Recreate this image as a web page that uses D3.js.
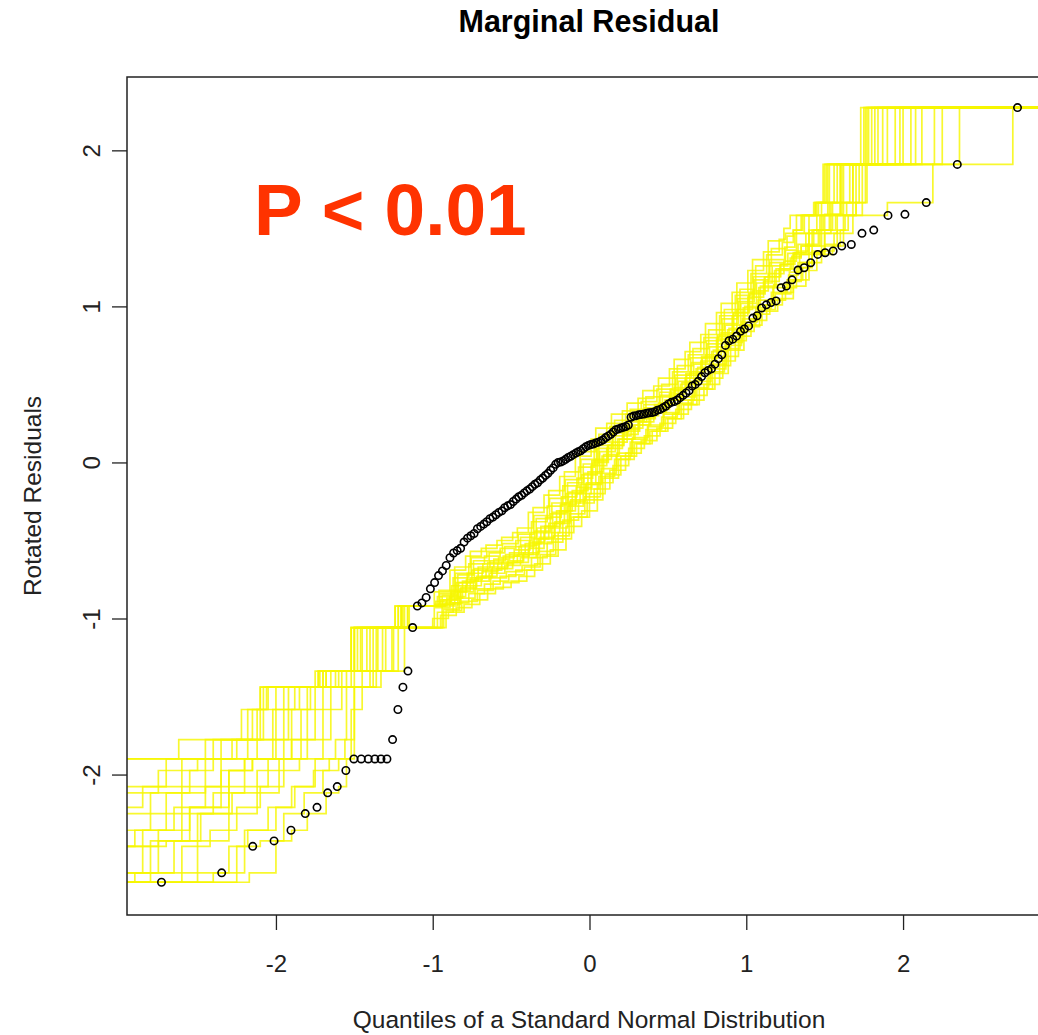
<!DOCTYPE html>
<html>
<head>
<meta charset="utf-8">
<script src="https://cdn.jsdelivr.net/npm/d3@7"></script>
<style>
  html, body { margin: 0; padding: 0; background: #fff; }
  svg { display: block; font-family: "Liberation Sans", Arial, sans-serif; }
</style>
</head>
<body>
<svg id="chart" width="1038" height="1035"></svg>
<script>
// Theoretical standard-normal quantiles (n = 158)
const normalQuantiles = [
  -2.73, -2.346, -2.148, -2.012, -1.904, -1.813, -1.738, -1.670, -1.609, -1.554,
  -1.503, -1.456, -1.411, -1.369, -1.330, -1.292, -1.256, -1.222, -1.190, -1.158,
  -1.128, -1.098, -1.069, -1.042, -1.015, -0.988, -0.963, -0.938, -0.914, -0.890,
  -0.867, -0.844, -0.822, -0.800, -0.778, -0.757, -0.736, -0.715, -0.694, -0.674,
  -0.655, -0.635, -0.616, -0.597, -0.578, -0.559, -0.541, -0.522, -0.504, -0.486,
  -0.468, -0.451, -0.433, -0.416, -0.399, -0.381, -0.365, -0.348, -0.331, -0.314,
  -0.298, -0.281, -0.265, -0.248, -0.232, -0.216, -0.200, -0.184, -0.168, -0.152,
  -0.136, -0.120, -0.104, -0.087, -0.072, -0.056, -0.040, -0.024, -0.008,
  0.008, 0.024, 0.040, 0.056, 0.072, 0.087, 0.104, 0.120, 0.136, 0.152,
  0.168, 0.184, 0.200, 0.216, 0.232, 0.248, 0.265, 0.281, 0.298, 0.314,
  0.331, 0.348, 0.365, 0.381, 0.399, 0.416, 0.433, 0.451, 0.468, 0.486,
  0.504, 0.522, 0.541, 0.559, 0.578, 0.597, 0.616, 0.635, 0.655, 0.674,
  0.694, 0.715, 0.736, 0.757, 0.778, 0.800, 0.822, 0.844, 0.867, 0.890,
  0.914, 0.938, 0.963, 0.988, 1.015, 1.042, 1.069, 1.098, 1.128, 1.158,
  1.190, 1.222, 1.256, 1.292, 1.330, 1.369, 1.411, 1.456, 1.503, 1.554,
  1.609, 1.670, 1.738, 1.813, 1.904, 2.012, 2.148, 2.346, 2.73
];

// Sorted rotated marginal residuals
const rotatedResiduals = [
  -2.69, -2.63, -2.46, -2.425, -2.357, -2.25, -2.21, -2.117, -2.077, -1.974,
  -1.90, -1.90, -1.90, -1.90, -1.90, -1.90, -1.776, -1.583, -1.44, -1.337,
  -1.058, -0.92, -0.90, -0.865, -0.81, -0.77, -0.725, -0.695, -0.66, -0.61,
  -0.58, -0.565, -0.55, -0.51, -0.485, -0.47, -0.455, -0.425, -0.41, -0.395,
  -0.38, -0.36, -0.35, -0.335, -0.32, -0.31, -0.29, -0.278, -0.27, -0.25,
  -0.235, -0.22, -0.21, -0.195, -0.182, -0.17, -0.155, -0.14, -0.13, -0.112,
  -0.10, -0.083, -0.07, -0.05, -0.035, -0.012, 0.0, 0.003, 0.01, 0.02,
  0.032, 0.04, 0.05, 0.06, 0.068, 0.075, 0.088, 0.10, 0.108,
  0.115, 0.118, 0.125, 0.13, 0.137, 0.145, 0.16, 0.17, 0.18, 0.195,
  0.21, 0.215, 0.22, 0.225, 0.23, 0.24, 0.29, 0.297, 0.30, 0.305,
  0.308, 0.31, 0.315, 0.318, 0.32, 0.325, 0.335, 0.34, 0.35, 0.36,
  0.375, 0.385, 0.39, 0.40, 0.415, 0.43, 0.445, 0.46, 0.49, 0.50,
  0.52, 0.55, 0.575, 0.59, 0.60, 0.63, 0.665, 0.69, 0.75, 0.78,
  0.79, 0.81, 0.84, 0.855, 0.875, 0.925, 0.94, 0.99, 1.01, 1.025,
  1.035, 1.12, 1.13, 1.17, 1.233, 1.248, 1.28, 1.333, 1.344, 1.355,
  1.387, 1.397, 1.468, 1.489, 1.583, 1.59, 1.665, 1.91, 2.274
];

// Simulated envelope samples, each as step corners [quantile, residual]
const envelopeSamples = [
  [[-3,-2.69],[-2.17,-2.63],[-2.0,-2.425],[-1.9,-2.357],[-1.8,-2.25],[-1.68,-2.117],[-1.6,-2.077],[-1.55,-1.90],[-1.5,-1.44],[-1.33,-1.337],[-1.18,-1.058],
   [-1.0,-1.00],[-0.9,-0.96],[-0.8,-0.91],[-0.7,-0.84],[-0.6,-0.80],[-0.5,-0.76],[-0.4,-0.69],[-0.3,-0.60],[-0.2,-0.45],[-0.1,-0.35],[0.0,-0.20],[0.1,-0.08],[0.2,0.04],[0.3,0.12],[0.4,0.20],[0.5,0.28],[0.6,0.37],[0.7,0.47],[0.8,0.62],[0.9,0.78],[1.0,0.88],[1.1,0.97],[1.2,1.05],
   [1.3,1.13],[1.38,1.23],[1.45,1.333],[1.55,1.387],[1.62,1.468],[1.68,1.583],[1.9,1.665],[2.19,1.91],[2.70,2.274]],
  [[-3,-2.69],[-2.25,-2.46],[-2.1,-2.425],[-1.95,-2.25],[-1.82,-2.117],[-1.7,-1.974],[-1.6,-1.90],[-1.52,-1.583],[-1.45,-1.44],[-1.36,-1.337],[-1.22,-1.058],
   [-0.95,-0.98],[-0.85,-0.93],[-0.75,-0.88],[-0.65,-0.81],[-0.55,-0.77],[-0.45,-0.73],[-0.35,-0.65],[-0.25,-0.56],[-0.15,-0.41],[-0.05,-0.31],[0.05,-0.13],[0.15,-0.02],[0.25,0.09],[0.35,0.17],[0.45,0.25],[0.55,0.34],[0.65,0.43],[0.75,0.54],[0.85,0.68],[0.95,0.84],[1.05,0.95],[1.15,1.04],[1.25,1.12],
   [1.32,1.17],[1.4,1.28],[1.48,1.355],[1.56,1.468],[1.62,1.583],[1.7,1.665],[1.77,1.91],[2.36,2.274]],
  [[-3,-2.69],[-2.4,-2.63],[-2.2,-2.357],[-2.05,-2.21],[-1.9,-2.077],[-1.75,-1.90],[-1.62,-1.776],[-1.55,-1.44],[-1.4,-1.337],[-1.25,-1.058],
   [-0.97,-0.96],[-0.87,-0.90],[-0.77,-0.84],[-0.67,-0.78],[-0.57,-0.73],[-0.47,-0.69],[-0.37,-0.61],[-0.27,-0.51],[-0.17,-0.37],[-0.07,-0.26],[0.03,-0.17],[0.13,-0.05],[0.23,0.06],[0.33,0.14],[0.43,0.22],[0.53,0.31],[0.63,0.40],[0.73,0.50],[0.83,0.65],[0.93,0.81],[1.03,0.91],[1.13,1.01],[1.23,1.09],
   [1.3,1.17],[1.36,1.248],[1.42,1.333],[1.5,1.387],[1.6,1.489],[1.65,1.583],[1.74,1.91],[2.2,2.274]],
  [[-3,-2.63],[-2.5,-2.425],[-2.3,-2.25],[-2.12,-2.117],[-1.98,-1.974],[-1.85,-1.90],[-1.7,-1.583],[-1.58,-1.44],[-1.45,-1.337],[-1.3,-1.058],
   [-0.93,-0.94],[-0.83,-0.87],[-0.73,-0.81],[-0.63,-0.74],[-0.53,-0.70],[-0.43,-0.66],[-0.33,-0.57],[-0.23,-0.47],[-0.13,-0.33],[-0.03,-0.22],[0.07,-0.07],[0.17,0.04],[0.27,0.15],[0.37,0.23],[0.47,0.31],[0.57,0.40],[0.67,0.50],[0.77,0.60],[0.87,0.75],[0.97,0.90],[1.07,1.01],[1.17,1.12],[1.27,1.20],
   [1.33,1.28],[1.42,1.355],[1.5,1.468],[1.58,1.583],[1.68,1.91],[2.05,2.274]],
  [[-3,-2.69],[-2.6,-2.46],[-2.42,-2.357],[-2.25,-2.21],[-2.1,-2.077],[-1.95,-1.90],[-1.8,-1.776],[-1.65,-1.44],[-1.5,-1.337],[-1.32,-1.058],
   [-0.99,-0.93],[-0.89,-0.86],[-0.79,-0.79],[-0.69,-0.73],[-0.59,-0.68],[-0.49,-0.64],[-0.39,-0.55],[-0.29,-0.45],[-0.19,-0.31],[-0.09,-0.20],[0.01,-0.02],[0.11,0.09],[0.21,0.18],[0.31,0.26],[0.41,0.34],[0.51,0.44],[0.61,0.54],[0.71,0.65],[0.81,0.79],[0.91,0.94],[1.01,1.06],[1.11,1.16],[1.21,1.24],
   [1.3,1.333],[1.4,1.387],[1.47,1.489],[1.55,1.583],[1.6,1.665],[1.66,1.91],[1.98,2.274]],
  [[-3,-2.46],[-2.75,-2.357],[-2.55,-2.21],[-2.3,-1.974],[-2.15,-1.90],[-1.9,-1.583],[-1.78,-1.44],[-1.55,-1.337],[-1.35,-1.058],
   [-0.94,-0.92],[-0.84,-0.83],[-0.74,-0.76],[-0.64,-0.71],[-0.54,-0.66],[-0.44,-0.61],[-0.34,-0.52],[-0.24,-0.42],[-0.14,-0.28],[-0.04,-0.17],[0.06,-0.09],[0.16,0.02],[0.26,0.13],[0.36,0.21],[0.46,0.29],[0.56,0.38],[0.66,0.48],[0.76,0.58],[0.86,0.73],[0.96,0.88],[1.06,0.99],[1.16,1.09],[1.26,1.17],
   [1.32,1.248],[1.4,1.344],[1.48,1.468],[1.54,1.59],[1.62,1.665],[1.7,1.91],[2.12,2.274]],
  [[-3,-2.69],[-2.8,-2.425],[-2.6,-2.25],[-2.4,-2.117],[-2.2,-1.90],[-2.0,-1.776],[-1.8,-1.44],[-1.6,-1.337],[-1.4,-1.058],[-1.18,-0.92],
   [-0.96,-0.91],[-0.86,-0.82],[-0.76,-0.74],[-0.66,-0.69],[-0.56,-0.64],[-0.46,-0.59],[-0.36,-0.49],[-0.26,-0.39],[-0.16,-0.26],[-0.06,-0.14],[0.04,0.02],[0.14,0.13],[0.24,0.22],[0.34,0.30],[0.44,0.38],[0.54,0.48],[0.64,0.58],[0.74,0.69],[0.84,0.83],[0.94,0.98],[1.04,1.10],[1.14,1.21],[1.24,1.29],
   [1.32,1.355],[1.4,1.468],[1.48,1.583],[1.55,1.665],[1.62,1.91],[1.9,2.274]],
  [[-3,-2.63],[-2.85,-2.357],[-2.65,-2.21],[-2.45,-2.077],[-2.3,-1.974],[-2.15,-1.90],[-1.95,-1.583],[-1.85,-1.44],[-1.62,-1.337],[-1.42,-1.058],[-1.2,-0.92],
   [-0.92,-0.90],[-0.82,-0.80],[-0.72,-0.73],[-0.62,-0.67],[-0.52,-0.63],[-0.42,-0.58],[-0.32,-0.48],[-0.22,-0.38],[-0.12,-0.24],[-0.02,-0.13],[0.08,0.04],[0.18,0.15],[0.28,0.24],[0.38,0.32],[0.48,0.40],[0.58,0.50],[0.68,0.60],[0.78,0.71],[0.88,0.85],[0.98,0.99],[1.08,1.12],[1.18,1.23],[1.28,1.31],
   [1.35,1.387],[1.43,1.489],[1.5,1.59],[1.6,1.91],[1.95,2.274]],
  [[-3,-2.357],[-2.8,-2.25],[-2.6,-2.077],[-2.35,-1.90],[-2.12,-1.776],[-1.92,-1.44],[-1.68,-1.337],[-1.45,-1.058],[-1.22,-0.92],
   [-0.98,-0.89],[-0.88,-0.79],[-0.78,-0.71],[-0.68,-0.65],[-0.58,-0.61],[-0.48,-0.56],[-0.38,-0.45],[-0.28,-0.35],[-0.18,-0.22],[-0.08,-0.10],[0.02,0.0],[0.12,0.11],[0.22,0.20],[0.32,0.28],[0.42,0.36],[0.52,0.46],[0.62,0.56],[0.72,0.67],[0.82,0.81],[0.92,0.96],[1.02,1.08],[1.12,1.19],[1.22,1.27],
   [1.3,1.344],[1.38,1.468],[1.45,1.583],[1.52,1.665],[1.6,1.91],[1.84,2.274]],
  [[-3,-2.69],[-2.9,-2.63],[-2.75,-2.425],[-2.55,-2.21],[-2.35,-1.974],[-2.2,-1.90],[-2.02,-1.583],[-1.88,-1.44],[-1.65,-1.337],[-1.48,-1.058],[-1.2,-0.92],
   [-0.95,-0.88],[-0.85,-0.77],[-0.75,-0.69],[-0.65,-0.64],[-0.55,-0.60],[-0.45,-0.54],[-0.35,-0.44],[-0.25,-0.33],[-0.15,-0.20],[-0.05,-0.08],[0.05,0.09],[0.15,0.19],[0.25,0.27],[0.35,0.35],[0.45,0.43],[0.55,0.54],[0.65,0.64],[0.75,0.76],[0.85,0.89],[0.95,1.03],[1.05,1.17],[1.15,1.28],[1.25,1.36],
   [1.32,1.468],[1.4,1.583],[1.48,1.665],[1.56,1.91],[1.8,2.274]],
  [[-3,-2.25],[-2.8,-2.117],[-2.55,-1.974],[-2.4,-1.90],[-2.18,-1.776],[-2.0,-1.44],[-1.7,-1.337],[-1.5,-1.058],[-1.24,-0.92],
   [-0.91,-0.87],[-0.81,-0.76],[-0.71,-0.67],[-0.61,-0.62],[-0.51,-0.58],[-0.41,-0.52],[-0.31,-0.41],[-0.21,-0.31],[-0.11,-0.18],[-0.01,-0.06],[0.09,0.05],[0.19,0.15],[0.29,0.24],[0.39,0.32],[0.49,0.40],[0.59,0.51],[0.69,0.61],[0.79,0.72],[0.89,0.86],[0.99,1.00],[1.09,1.13],[1.19,1.24],[1.29,1.32],
   [1.35,1.387],[1.42,1.489],[1.49,1.583],[1.53,1.665],[1.58,1.91],[1.87,2.274]],
  [[-3,-2.077],[-2.7,-1.90],[-2.35,-1.776],[-2.15,-1.583],[-2.05,-1.44],[-1.72,-1.337],[-1.5,-1.058],[-1.2,-0.92],
   [-0.97,-0.86],[-0.87,-0.74],[-0.77,-0.65],[-0.67,-0.60],[-0.57,-0.55],[-0.47,-0.50],[-0.37,-0.38],[-0.27,-0.28],[-0.17,-0.15],[-0.07,-0.03],[0.03,0.13],[0.13,0.23],[0.23,0.31],[0.33,0.39],[0.43,0.47],[0.53,0.58],[0.63,0.69],[0.73,0.80],[0.83,0.94],[0.93,1.07],[1.03,1.21],[1.13,1.33],[1.23,1.41],
   [1.3,1.489],[1.36,1.583],[1.44,1.665],[1.52,1.91],[1.77,2.274]],
  [[-3,-2.46],[-2.9,-2.357],[-2.7,-2.117],[-2.45,-1.90],[-2.25,-1.776],[-2.08,-1.44],[-1.75,-1.337],[-1.52,-1.058],[-1.22,-0.92],
   [-0.94,-0.85],[-0.84,-0.72],[-0.74,-0.63],[-0.64,-0.58],[-0.54,-0.54],[-0.44,-0.48],[-0.34,-0.36],[-0.24,-0.26],[-0.14,-0.13],[-0.04,-0.01],[0.06,0.18],[0.16,0.27],[0.26,0.34],[0.36,0.42],[0.46,0.50],[0.56,0.62],[0.66,0.73],[0.76,0.85],[0.86,0.98],[0.96,1.11],[1.06,1.26],[1.16,1.37],[1.26,1.45],
   [1.3,1.489],[1.35,1.583],[1.45,1.665],[1.51,1.91],[1.75,2.274]],
  [[-3,-1.90],[-2.45,-1.776],[-2.12,-1.583],[-2.1,-1.44],[-1.73,-1.337],[-1.52,-1.058],[-1.24,-0.92],
   [-0.99,-0.83],[-0.89,-0.69],[-0.79,-0.60],[-0.69,-0.55],[-0.59,-0.50],[-0.49,-0.45],[-0.39,-0.32],[-0.29,-0.21],[-0.19,-0.09],[-0.09,0.04],[0.01,0.15],[0.11,0.25],[0.21,0.33],[0.31,0.41],[0.41,0.49],[0.51,0.60],[0.61,0.71],[0.71,0.82],[0.81,0.96],[0.91,1.09],[1.01,1.23],[1.11,1.35],[1.21,1.43],
   [1.25,1.468],[1.32,1.583],[1.46,1.665],[1.53,1.91],[1.78,2.274]],
  [[-3,-1.90],[-2.62,-1.776],[-2.22,-1.583],[-2.1,-1.44],[-1.73,-1.337],[-1.52,-1.058],[-1.16,-0.92],
   [-0.96,-0.82],[-0.86,-0.67],[-0.76,-0.57],[-0.66,-0.53],[-0.56,-0.48],[-0.46,-0.42],[-0.36,-0.29],[-0.26,-0.18],[-0.16,-0.06],[-0.06,0.07],[0.04,0.22],[0.14,0.31],[0.24,0.38],[0.34,0.46],[0.44,0.54],[0.54,0.66],[0.64,0.77],[0.74,0.89],[0.84,1.02],[0.94,1.15],[1.04,1.30],[1.14,1.42],[1.24,1.50],
   [1.28,1.583],[1.43,1.665],[1.49,1.91],[1.73,2.274]],
  [[-3,-2.63],[-2.65,-2.425],[-2.5,-2.25],[-2.3,-2.077],[-2.05,-1.90],[-1.9,-1.776],[-1.75,-1.44],[-1.58,-1.337],[-1.38,-1.058],[-1.15,-0.92],
   [-0.925,-0.91],[-0.825,-0.81],[-0.725,-0.74],[-0.625,-0.68],[-0.525,-0.64],[-0.425,-0.59],[-0.325,-0.49],[-0.225,-0.39],[-0.125,-0.25],[-0.025,-0.14],[0.075,-0.04],[0.175,0.06],[0.275,0.16],[0.375,0.24],[0.475,0.32],[0.575,0.42],[0.675,0.52],[0.775,0.63],[0.875,0.77],[0.975,0.92],[1.075,1.04],[1.175,1.14],[1.275,1.22],
   [1.34,1.333],[1.42,1.387],[1.5,1.489],[1.57,1.583],[1.64,1.665],[1.72,1.91],[2.0,2.274]],
  [[-3,-2.69],[-2.5,-2.63],[-2.3,-2.46],[-2.18,-2.357],[-2.0,-2.21],[-1.88,-2.077],[-1.76,-1.974],[-1.66,-1.90],[-1.56,-1.776],[-1.5,-1.44],[-1.38,-1.337],[-1.26,-1.058],
   [-0.915,-0.95],[-0.815,-0.89],[-0.715,-0.82],[-0.615,-0.76],[-0.515,-0.72],[-0.415,-0.67],[-0.315,-0.59],[-0.215,-0.49],[-0.115,-0.35],[-0.015,-0.24],[0.085,-0.10],[0.185,0.02],[0.285,0.12],[0.385,0.20],[0.485,0.28],[0.585,0.37],[0.685,0.47],[0.785,0.57],[0.885,0.72],[0.985,0.87],[1.085,0.98],[1.185,1.08],[1.285,1.16],
   [1.35,1.28],[1.42,1.344],[1.5,1.397],[1.58,1.489],[1.63,1.583],[1.7,1.665],[1.76,1.91],[2.25,2.274]],
  [[-3,-2.46],[-2.7,-2.425],[-2.48,-2.25],[-2.28,-2.117],[-2.12,-1.974],[-1.98,-1.90],[-1.84,-1.583],[-1.7,-1.44],[-1.52,-1.337],[-1.36,-1.058],[-1.16,-0.92],
   [-0.985,-0.91],[-0.885,-0.83],[-0.785,-0.75],[-0.685,-0.70],[-0.585,-0.65],[-0.485,-0.60],[-0.385,-0.51],[-0.285,-0.41],[-0.185,-0.27],[-0.085,-0.16],[0.015,0.01],[0.115,0.11],[0.215,0.21],[0.315,0.29],[0.415,0.37],[0.515,0.47],[0.615,0.57],[0.715,0.68],[0.815,0.82],[0.915,0.96],[1.015,1.09],[1.115,1.19],[1.215,1.27],
   [1.31,1.344],[1.39,1.397],[1.46,1.489],[1.53,1.583],[1.61,1.665],[1.68,1.91],[2.08,2.274]],
  [[-3,-2.117],[-2.75,-1.974],[-2.5,-1.90],[-2.28,-1.776],[-2.1,-1.583],[-1.95,-1.44],[-1.68,-1.337],[-1.46,-1.058],[-1.19,-0.92],
   [-0.935,-0.88],[-0.835,-0.77],[-0.735,-0.68],[-0.635,-0.63],[-0.535,-0.59],[-0.435,-0.53],[-0.335,-0.42],[-0.235,-0.32],[-0.135,-0.19],[-0.035,-0.07],[0.065,0.07],[0.165,0.17],[0.265,0.26],[0.365,0.34],[0.465,0.42],[0.565,0.52],[0.665,0.63],[0.765,0.74],[0.865,0.88],[0.965,1.02],[1.065,1.15],[1.165,1.26],[1.265,1.34],
   [1.33,1.397],[1.4,1.489],[1.47,1.583],[1.54,1.665],[1.61,1.91],[1.82,2.274]],
  [[-3,-2.21],[-2.85,-2.077],[-2.6,-1.90],[-2.4,-1.776],[-2.18,-1.583],[-2.06,-1.44],[-1.7,-1.337],[-1.5,-1.058],[-1.2,-0.92],
   [-0.955,-0.84],[-0.855,-0.71],[-0.755,-0.61],[-0.655,-0.57],[-0.555,-0.52],[-0.455,-0.46],[-0.355,-0.34],[-0.255,-0.23],[-0.155,-0.11],[-0.055,0.02],[0.045,0.11],[0.145,0.21],[0.245,0.29],[0.345,0.37],[0.445,0.45],[0.545,0.56],[0.645,0.67],[0.745,0.78],[0.845,0.92],[0.945,1.05],[1.045,1.19],[1.145,1.30],[1.245,1.38],
   [1.31,1.468],[1.37,1.583],[1.44,1.665],[1.5,1.91],[1.76,2.274]]
];

const xTicks = [-2, -1, 0, 1, 2];
const yTicks = [-2, -1, 0, 1, 2];
const titleText = "Marginal Residual";
const xLabelText = "Quantiles of a Standard Normal Distribution";
const yLabelText = "Rotated Residuals";
const annotationText = "P < 0.01";

const svg = d3.select("#chart");
const plot = { left: 127, right: 1052, top: 77, bottom: 915 };

const x = d3.scaleLinear().domain([-2.95, 2.95]).range([plot.left, plot.right]);
const y = d3.scaleLinear().domain([-2.90, 2.47]).range([plot.bottom, plot.top]);

svg.append("rect").attr("width", 1038).attr("height", 1035).attr("fill", "#fff");

svg.append("defs").append("clipPath").attr("id", "plot-clip")
  .append("rect")
  .attr("x", plot.left).attr("y", plot.top)
  .attr("width", plot.right - plot.left).attr("height", plot.bottom - plot.top);

// Envelope of simulated samples, drawn as step lines
const stepLine = d3.line()
  .x(d => x(d[0]))
  .y(d => y(d[1]))
  .curve(d3.curveStepAfter);

const xMax = x.domain()[1] + 0.2;
svg.append("g").attr("clip-path", "url(#plot-clip)")
  .selectAll("path.env")
  .data(envelopeSamples)
  .join("path")
  .attr("class", "env")
  .attr("fill", "none")
  .attr("stroke", "#f6f600")
  .attr("stroke-opacity", 0.82)
  .attr("stroke-width", 1.7)
  .attr("d", s => stepLine(s.concat([[xMax, s[s.length - 1][1]]])));

// Observed residuals against normal quantiles
const pts = normalQuantiles.map((q, i) => [q, rotatedResiduals[i]]);
svg.append("g").attr("clip-path", "url(#plot-clip)")
  .selectAll("circle")
  .data(pts)
  .join("circle")
  .attr("cx", d => x(d[0]))
  .attr("cy", d => y(d[1]))
  .attr("r", 3.7)
  .attr("fill", "none")
  .attr("stroke", "#000")
  .attr("stroke-width", 1.6);

// Plot frame
svg.append("rect")
  .attr("x", plot.left).attr("y", plot.top)
  .attr("width", plot.right - plot.left).attr("height", plot.bottom - plot.top)
  .attr("fill", "none").attr("stroke", "#222").attr("stroke-width", 1.5);

// Axes (R style: ticks outward, labels parallel to axis)
const tickLabel = d => String(d);
const xAxis = d3.axisBottom(x).tickValues(xTicks).tickSize(15).tickFormat(tickLabel);
const gx = svg.append("g").attr("transform", `translate(0,${plot.bottom})`).call(xAxis);
gx.select(".domain").remove();
gx.selectAll(".tick line").attr("stroke", "#222").attr("stroke-width", 1.3);
gx.selectAll(".tick text")
  .attr("font-size", 24).attr("fill", "#222")
  .attr("font-family", "'Liberation Sans', Arial, sans-serif")
  .attr("dy", null).attr("y", 57);

const yAxis = d3.axisLeft(y).tickValues(yTicks).tickSize(15).tickFormat(tickLabel);
const gy = svg.append("g").attr("transform", `translate(${plot.left},0)`).call(yAxis);
gy.select(".domain").remove();
gy.selectAll(".tick line").attr("stroke", "#222").attr("stroke-width", 1.3);
gy.selectAll(".tick text")
  .attr("font-size", 24).attr("fill", "#222")
  .attr("font-family", "'Liberation Sans', Arial, sans-serif")
  .attr("x", null).attr("dy", null)
  .attr("text-anchor", "middle")
  .attr("transform", "translate(-27,0) rotate(-90)");

// Titles
svg.append("text")
  .attr("x", 589).attr("y", 32)
  .attr("text-anchor", "middle")
  .attr("font-size", 30.5).attr("font-weight", "bold").attr("fill", "#000")
  .text(titleText);

svg.append("text")
  .attr("x", 589).attr("y", 1028)
  .attr("text-anchor", "middle")
  .attr("font-size", 24.5).attr("fill", "#222")
  .text(xLabelText);

svg.append("text")
  .attr("transform", "translate(41,496) rotate(-90)")
  .attr("text-anchor", "middle")
  .attr("font-size", 24.5).attr("fill", "#222")
  .text(yLabelText);

svg.append("text")
  .attr("x", 254).attr("y", 235)
  .attr("font-size", 73).attr("font-weight", "bold").attr("fill", "#ff3300")
  .text(annotationText);
</script>
</body>
</html>
